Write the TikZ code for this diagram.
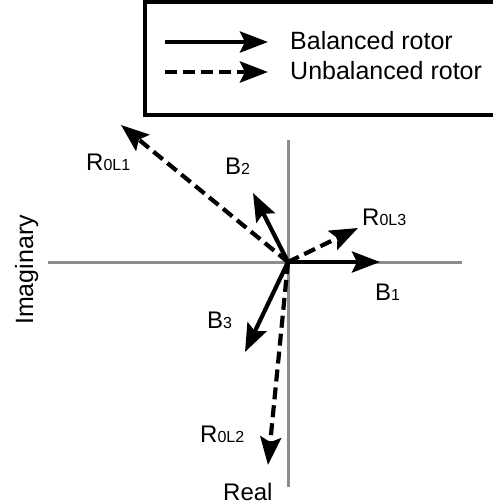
\documentclass[tikz,border=0pt]{standalone}
\usepackage{fontspec}
\setmainfont{Liberation Sans}
\usetikzlibrary{arrows.meta}
\newcommand{\lblsub}[2]{#1{\fontsize{16}{18}\selectfont #2}}
\begin{document}
\begin{tikzpicture}[x=1pt,y=-1pt,
  axisline/.style={draw={rgb,255:red,140;green,140;blue,140}, line width=3pt},
  vec/.style={draw=black, line width=4.2pt, -{Stealth[length=28pt,width=21pt,inset=5pt]}},
  dvec/.style={vec, dash pattern=on 12pt off 6pt},
  lbl/.style={font=\fontsize{24}{28}\selectfont, inner sep=0pt, anchor=base west},
  leg/.style={font=\fontsize{25}{30}\selectfont, inner sep=0pt, anchor=base west}]
\useasboundingbox (0,0) rectangle (493,504);
% legend box
\draw[line width=3.5pt] (500,2) -- (145,2) -- (145,115) -- (500,115);
\coordinate (l1a) at (165,42);
\coordinate (l1b) at (268,42);
\coordinate (l2a) at (165,72);
\coordinate (l2b) at (268,72);
\draw[vec] (l1a) -- (l1b);
\draw[dvec] (l2a) -- (l2b);
\node[leg] (tb) at (290,49) {Balanced rotor};
\node[leg] (tu) at (290,79) {Unbalanced rotor};
% axes
\coordinate (O) at (288,262);
\coordinate (xl) at (48,262);
\coordinate (xr) at (462,262);
\coordinate (yt) at (288,140);
\coordinate (yb) at (288,487);
\draw[axisline] (xl) -- (xr);
\draw[axisline] (yt) -- (yb);
% vectors
\coordinate (b1) at (380,262);
\coordinate (b2) at (253,193);
\coordinate (b3) at (245,352);
\coordinate (r1) at (121,125);
\coordinate (r2) at (268,465);
\coordinate (r3) at (358,228);
\draw[dvec] (O) -- (r1);
\draw[dvec] (O) -- (r2);
\draw[dvec] (O) -- (r3);
\draw[vec] (O) -- (b1);
\draw[vec] (O) -- (b2);
\draw[vec] (O) -- (b3);
% labels
\node[lbl] (lr1) at (86,170) {\lblsub{R}{0L1}};
\node[lbl] (lb2) at (225,174) {\lblsub{B}{2}};
\node[lbl] (lr3) at (362,225) {\lblsub{R}{0L3}};
\node[lbl] (lb1) at (375,300) {\lblsub{B}{1}};
\node[lbl] (lb3) at (207,328) {\lblsub{B}{3}};
\node[lbl] (lr2) at (200,442) {\lblsub{R}{0L2}};
\node[lbl] (real) at (223,500) {Real};
\node[lbl, rotate=90, font=\fontsize{25}{30}\selectfont] (imag) at (33,325) {Imaginary};
\end{tikzpicture}
\end{document}
